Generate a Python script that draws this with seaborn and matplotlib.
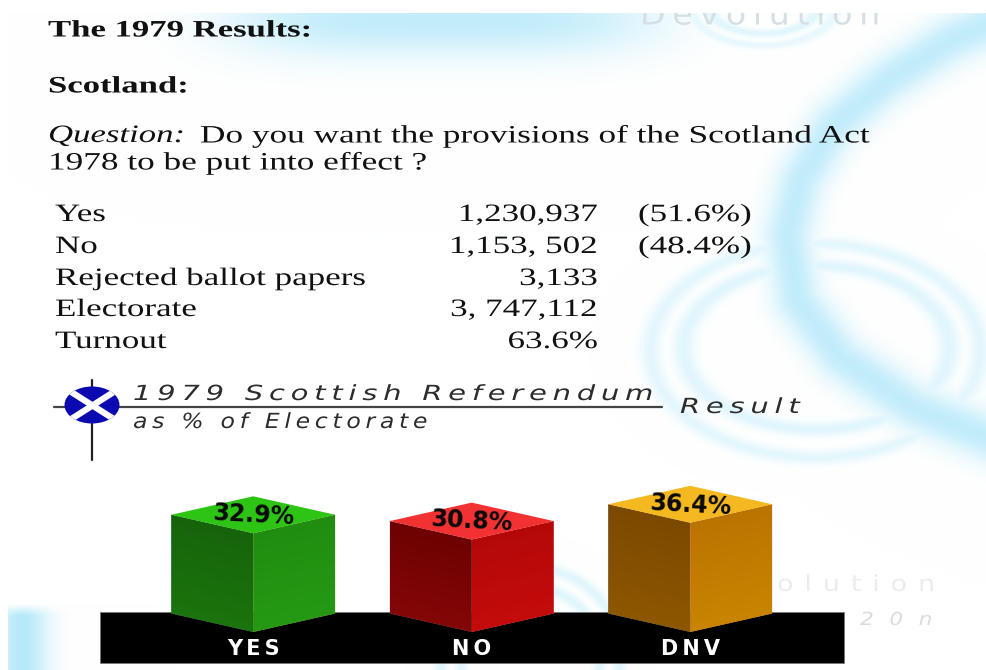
import numpy as np
import pandas as pd
import matplotlib
matplotlib.use("Agg")
import matplotlib.pyplot as plt
import seaborn as sns
from matplotlib.patches import Ellipse, Polygon, Rectangle
from matplotlib.patheffects import AbstractPathEffect
from matplotlib.transforms import Affine2D

# chart values
categories = ["YES", "NO", "DNV"]
percent_of_electorate = [32.9, 30.8, 36.4]
faces = ["left", "right"]

# text table above the chart
table_labels = ["Yes", "No", "Rejected ballot papers", "Electorate", "Turnout"]
table_counts = ["1,230,937", "1,153, 502", "3,133", "3, 747,112", "63.6%"]
table_shares = ["(51.6%)", "(48.4%)", "", "", ""]

left_colors = [("#15600a", "#1d780e"), ("#680000", "#8a0808"), ("#784600", "#915a00")]
right_colors = [("#1f8a10", "#269c14"), ("#b00808", "#c80c0c"), ("#b87000", "#cc8800")]
top_colors = ["#2dc415", "#f23232", "#f4b920"]

W, H = 987, 670
SLOPE = 18.5 / 82  # rise of the bar edges, pixels per pixel


def spaced(s, n=2):
    # the heading font is letterspaced in the original
    return ("\u2009" * n).join(s)


class StretchX(AbstractPathEffect):
    # the source picture was scaled wider than tall, so its letters are too
    def __init__(self, sx, x0):
        super().__init__()
        self.sx = sx
        self.x0 = x0

    def draw_path(self, renderer, gc, tpath, affine, rgbFace=None):
        stretch = Affine2D().translate(-self.x0, 0).scale(self.sx, 1).translate(self.x0, 0)
        renderer.draw_path(gc, tpath, affine + stretch, rgbFace)


def page_text(x, y, s, sx=1.0, **kw):
    return bg.text(x, y, s, path_effects=[StretchX(sx, x)], **kw)


sns.set_theme(style="white")
plt.rcParams["font.family"] = ["Liberation Serif", "DejaVu Sans"]

fig = plt.figure(figsize=(W / 100, H / 100), dpi=100)

# background page, in pixel coordinates
bg = fig.add_axes([0, 0, 1, 1])
bg.set_xlim(0, W)
bg.set_ylim(H, 0)
bg.axis("off")

yy, xx = np.mgrid[0:H, 0:W]


def ring(cx, cy, rx, ry, w):
    d = np.hypot((xx - cx) / rx, (yy - cy) / ry) - 1
    return np.exp(-((d * min(rx, ry) / w) ** 2))


def swoosh(points, w):
    # soft band along a polyline
    best = np.full((H, W), 1e9)
    for (x0, y0), (x1, y1) in zip(points[:-1], points[1:]):
        dx, dy = x1 - x0, y1 - y0
        t = np.clip(((xx - x0) * dx + (yy - y0) * dy) / (dx * dx + dy * dy), 0, 1)
        best = np.minimum(best, np.hypot(xx - x0 - t * dx, yy - y0 - t * dy))
    return np.exp(-((best / w) ** 2))


arc_path = [(1010, 15), (950, 40), (887, 80), (833, 125), (800, 180), (787, 233),
            (797, 300), (840, 357), (913, 407), (1000, 442)]
blue = 0.8 * swoosh(arc_path, 24)
blue = np.maximum(blue, 0.8 * np.exp(-(((xx - 440) / 215) ** 4) - ((yy - 20) / 36) ** 2))
blue = np.maximum(blue, 0.35 * ring(815, 350, 165, 107, 7))
blue = np.maximum(blue, 0.40 * ring(816, 347, 133, 82, 7))
blue = np.maximum(blue, 0.40 * ring(530, 655, 90, 88, 6))
blue = np.maximum(blue, 0.40 * ring(530, 655, 70, 68, 6))
blue = np.maximum(blue, 0.30 * ring(763, 5, 73, 40, 4))
blue = np.maximum(blue, 0.40 * ring(763, 5, 55, 28, 4))
blue = np.maximum(blue, 0.95 * np.exp(-(((xx - 22) / 26) ** 2)) * np.clip((yy - 603) / 12, 0, 1))
blue[:13, :] = 0
blue[:, :8] = 0
page = np.ones((H, W, 3))
cyan = np.array([0.70, 0.91, 0.98])
page = page * (1 - blue[..., None]) + cyan * blue[..., None]
bg.imshow(page, extent=(0, W, H, 0), aspect="auto", zorder=0)

serif = dict(family="Liberation Serif", color="#111111", va="center")
page_text(48, 31, "The 1979 Results:", sx=1.47, fontsize=17, weight="bold", **serif)
page_text(48, 87, "Scotland:", sx=1.47, fontsize=17, weight="bold", **serif)
page_text(48, 136, "Question:", sx=1.39, fontsize=18, style="italic", **serif)
page_text(200, 136, "Do you want the provisions of the Scotland Act", sx=1.41, fontsize=18, **serif)
page_text(48, 163, "1978 to be put into effect ?", sx=1.41, fontsize=18, **serif)

row_y = [215, 247, 279, 310, 342]
for y, label, count, share in zip(row_y, table_labels, table_counts, table_shares):
    page_text(55, y, label, sx=1.40, fontsize=18, **serif)
    page_text(598, y, count, sx=1.40, fontsize=18, ha="right", **serif)
    page_text(638, y, share, sx=1.40, fontsize=18, **serif)

# faint watermarks
page_text(640, 16, spaced("Devolution", 1), sx=1.09, fontsize=22, color="#d6e0e4", ha="left", va="center",
          family="DejaVu Sans", zorder=1)
bg.add_patch(Rectangle((600, 0), 387, 13, facecolor="white", edgecolor="none", zorder=1.5))
page_text(777, 585, spaced("olution", 2), sx=1.22, fontsize=16, color="#ececec", ha="left", va="center",
          family="DejaVu Sans", zorder=1)
page_text(860, 620, spaced("2 0 n", 1), sx=1.2, fontsize=13, color="#dcdcdc", ha="left", va="center",
          style="italic", family="DejaVu Sans", zorder=1)

# heading with the saltire marker
bg.plot([92, 92], [380, 460], color="#222222", lw=1.6, zorder=2)
bg.plot([54, 662], [407, 407], color="#444444", lw=1.6, zorder=2)
flag = Ellipse((92, 405), 55, 37, facecolor="#0a0ab0", edgecolor="none", zorder=3)
bg.add_patch(flag)
for xs in ([65, 120], [120, 65]):
    cross, = bg.plot(xs, [388, 423], color="white", lw=4.5, zorder=4, solid_capstyle="butt")
    cross.set_clip_path(flag)
head = dict(family="DejaVu Sans", style="italic", color="#2c2c2c", va="center", fontsize=15)
page_text(133, 394, spaced("1979 Scottish Referendum", 1), sx=1.39, **head)
page_text(133, 422, spaced("as % of Electorate", 1), sx=1.13, **head)
page_text(680, 407, spaced("Result", 1), sx=1.39, **head)

# black plinth under the bars
bg.add_patch(Rectangle((100, 612), 744, 51, facecolor="black", edgecolor="#777777", lw=0.6, zorder=1.8))

# bars, one axes unit is 3 pixels high
base_px, top_px = 632, 452
ax = fig.add_axes([144 / W, 1 - base_px / H, 655.5 / W, (base_px - top_px) / H])
ax.patch.set_alpha(0)

df = pd.DataFrame(
    {
        "category": [c for c in categories for _ in faces],
        "face": faces * len(categories),
        "value": [v for v in percent_of_electorate for _ in faces],
    }
)
sns.barplot(data=df, x="category", y="value", hue="face", order=categories, hue_order=faces,
            width=0.75, gap=0, legend=False, ax=ax, linewidth=0, errorbar=None)
ax.set_xlim(-0.5, 2.5)
ax.set_ylim(0, 60)
fig.canvas.draw()

for side, container, colors in zip(faces, ax.containers, (left_colors, right_colors)):
    for bar, (c_top, c_bottom) in zip(container, colors):
        # front edge of the box, in display pixels
        if side == "left":
            edge = ax.transData.transform((bar.get_x() + bar.get_width(), 0))[0]
            k = -SLOPE
        else:
            edge = ax.transData.transform((bar.get_x(), 0))[0]
            k = SLOPE
        skew = Affine2D(np.array([[1, 0, 0], [k, 1, -k * edge], [0, 0, 1]]))
        bar.set_transform(ax.transData + skew)
        bar.set_clip_on(False)
        cmap = matplotlib.colors.LinearSegmentedColormap.from_list("f", [c_top, c_bottom])
        grad = ax.imshow(np.linspace(0, 1, 64)[:, None], cmap=cmap, aspect="auto", zorder=3,
                         extent=(bar.get_x(), bar.get_x() + bar.get_width(), -8, bar.get_height() + 8),
                         origin="upper")
        grad.set_transform(ax.transData + skew)
        # a Rectangle here would clip to its bounding box only
        grad.set_clip_path(bar.get_path(), bar.get_transform())

ax.set_xlim(-0.5, 2.5)
ax.set_ylim(0, 60)

# top of each box
to_px = ax.transData
dep = 82 * SLOPE
for i, (value, color) in enumerate(zip(percent_of_electorate, top_colors)):
    fx, fy = to_px.transform((i, value))
    pts = [(fx, fy), (fx - 82, fy + dep), (fx, fy + 2 * dep), (fx + 82, fy + dep)]
    ax.add_patch(Polygon(pts, closed=True, transform=None, facecolor=color, edgecolor="none", zorder=4))
    ax.annotate(f"{value}%", (i, value), xytext=(0, 18), textcoords="offset pixels",
                ha="center", va="center", rotation=-3, fontsize=17, weight="bold",
                family="DejaVu Sans", color="#0a0a0a", zorder=5, annotation_clip=False)

sns.despine(ax=ax, left=True, bottom=True)
ax.set_xlabel("")
ax.set_ylabel("")
ax.set_yticks([])
ax.set_xticks(range(len(categories)))
ax.set_xticklabels([spaced(c, 1) for c in categories], color="white", weight="bold",
                   fontsize=15, family="DejaVu Sans")
ax.tick_params(axis="x", length=0, pad=5)

fig.savefig("out.png", dpi=100)
